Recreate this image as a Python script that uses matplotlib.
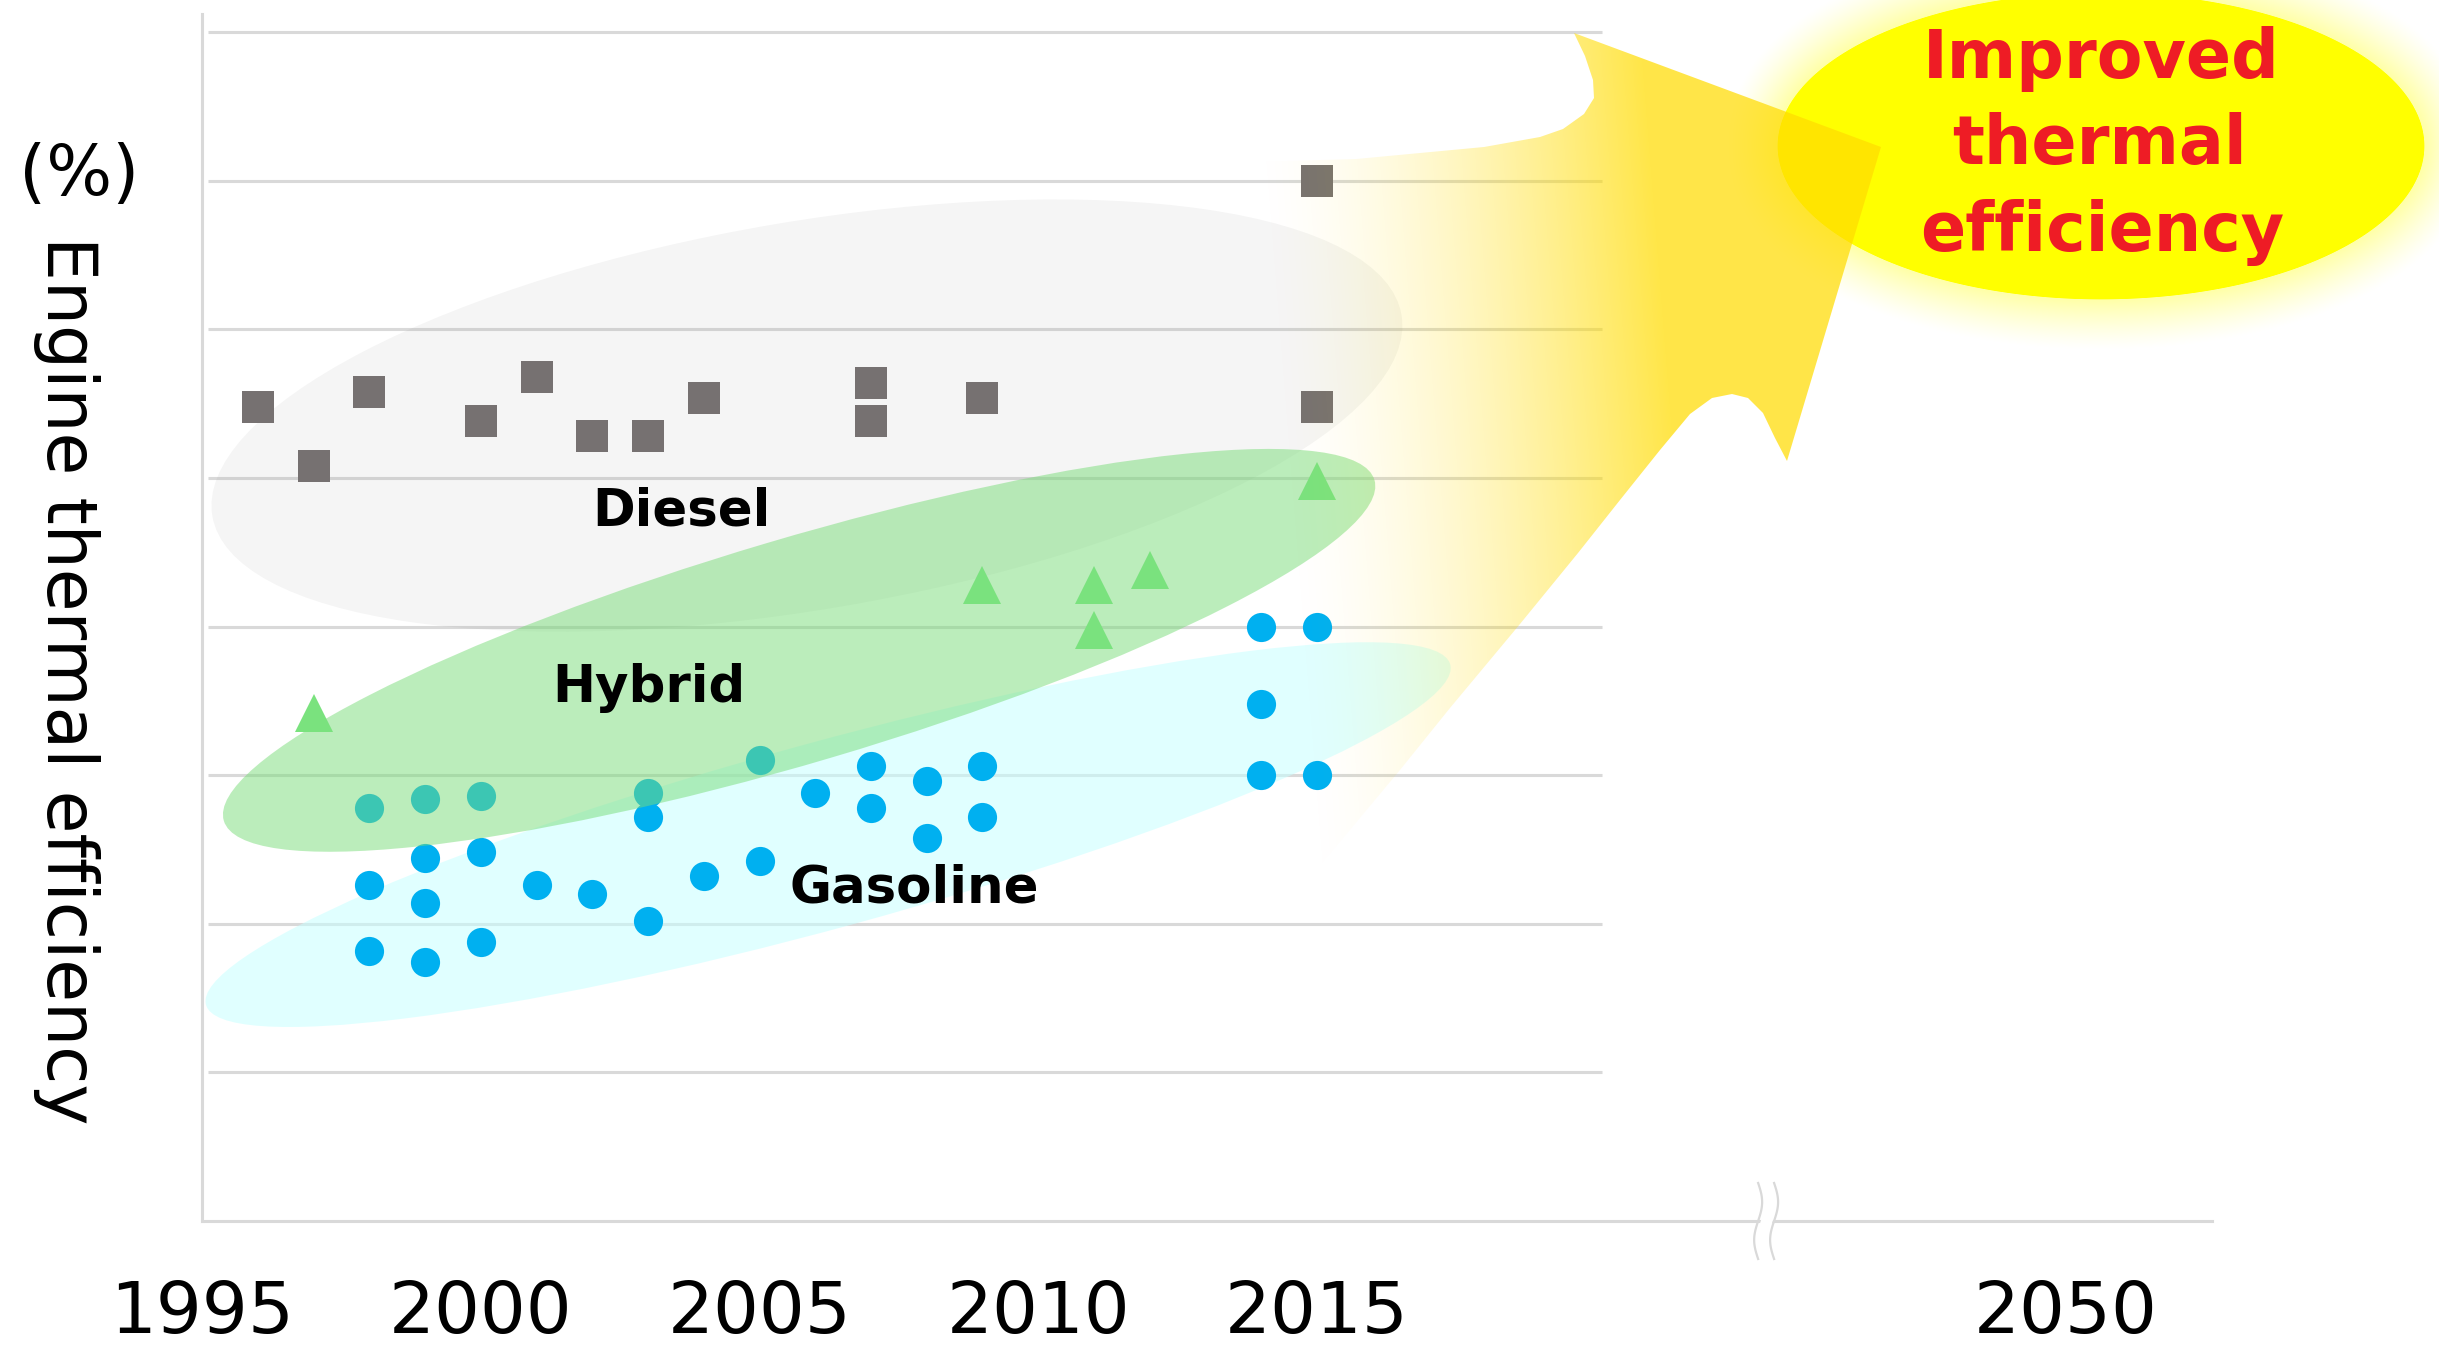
"""Engine thermal efficiency trend chart (diesel / hybrid / gasoline)."""

import numpy as np
import matplotlib.pyplot as plt
from matplotlib.patches import Ellipse, PathPatch
from matplotlib.path import Path
from matplotlib.transforms import IdentityTransform

# === DATA ===

diesel_years = [1996, 1997, 1998, 2000, 2001, 2002, 2003, 2004, 2007, 2007, 2009, 2015, 2015]
diesel_eff = [47.4, 45.4, 47.9, 46.9, 48.4, 46.4, 46.4, 47.7, 48.2, 46.9, 47.7, 55.0, 47.4]

hybrid_years = [1997, 2009, 2011, 2011, 2012, 2015]
hybrid_eff = [37.1, 41.4, 41.4, 39.9, 41.9, 44.9]

gasoline_years = [1998, 1998, 1998, 1999, 1999, 1999, 1999, 2000, 2000, 2000,
                  2001, 2002, 2003, 2003, 2003, 2004, 2005, 2005, 2006, 2007,
                  2007, 2008, 2008, 2009, 2009, 2014, 2014, 2014, 2015, 2015]
gasoline_eff = [33.9, 31.3, 29.1, 34.2, 32.2, 30.7, 28.7, 34.3, 32.4, 29.4,
                31.3, 31.0, 34.4, 33.6, 30.1, 31.6, 35.5, 32.1, 34.4, 35.3,
                33.9, 34.8, 32.9, 35.3, 33.6, 40.0, 37.4, 35.0, 40.0, 35.0]

grid_levels = [25, 30, 35, 40, 45, 50, 55, 60]
tick_labels = ["1995", "2000", "2005", "2010", "2015", "2050"]
# the axis is broken after 2020, so 2050 sits at a compressed position
tick_positions = [1995, 2000, 2005, 2010, 2015, 2028.43]

GRID = "#d9d9d9"
W, H = 2439, 1355
PX_YEAR, PX_PCT = 55.9, 29.72

# === FIGURE ===

fig = plt.figure(figsize=(W / 100, H / 100), dpi=100)
ax = fig.add_axes([202.2 / W, (H - 1221) / H, (2212 - 202.2) / W, (1221 - 14) / H])
ax.set_xlim(1995.10, 2031.06)
ax.set_ylim(20, 60.61)

for side in ["top", "right"]:
    ax.spines[side].set_visible(False)
for side in ["left", "bottom"]:
    ax.spines[side].set_color(GRID)
    ax.spines[side].set_linewidth(2.2)

ax.hlines(grid_levels, 1995.10, 2020.11, color=GRID, lw=2.2, zorder=0.5)

ax.set_yticks([])
ax.set_xticks(tick_positions, tick_labels, fontsize=52)
ax.tick_params(axis="x", length=0, pad=42)


def add_zone(cx, cy, a_px, b_px, angle, color, alpha, z):
    # zone centre is in data units, size in pixels so the tilt stays true
    centre = ax.transData.transform((cx, cy))
    ell = Ellipse(centre, 2 * a_px, 2 * b_px, angle=angle, transform=IdentityTransform(),
                  facecolor=color, edgecolor="none", alpha=alpha, zorder=z, clip_on=False)
    ax.add_artist(ell)


add_zone(2005.85, 47.1, 603, 194, 9.6, "#808080", 0.08, 1)
add_zone(2006.23, 33.0, 645, 93, 15.3, "#c8ffff", 0.55, 1.5)

ax.plot(gasoline_years, gasoline_eff, "o", color="#00b0f0", ms=21, mew=0, zorder=3)

add_zone(2005.71, 39.2, 600, 112, 16.5, "#78dc78", 0.5, 4)

ax.plot(hybrid_years, hybrid_eff, "^", color="#7ae27e", ms=27, mew=0, zorder=5)
ax.plot(diesel_years, diesel_eff, "s", color="#767171", ms=23, mew=0, zorder=5)

label_style = dict(fontsize=37, fontweight="bold", ha="center", va="center", zorder=6)
ax.text(2003.6, 43.86, "Diesel", **label_style)
ax.text(2003.02, 37.93, "Hybrid", **label_style)
ax.text(2007.77, 31.2, "Gasoline", **label_style)

# axis break mark on the bottom axis
bx = 2023.06
t = np.linspace(-1, 1, 60)
ys = 20 + t * 38 / PX_PCT
for off in (-8, 8):
    xs = bx + (off + 4 * np.sin(np.pi * t)) / PX_YEAR
    ax.plot(xs, ys, color=GRID, lw=1.6, zorder=7, clip_on=False)
ax.fill_betweenx(ys, bx + (-6 + 4 * np.sin(np.pi * t)) / PX_YEAR,
                 bx + (6 + 4 * np.sin(np.pi * t)) / PX_YEAR,
                 color="white", lw=0, zorder=6.5, clip_on=False)

# === OVERLAY (arrow + highlight) in pixel coordinates ===

ov = fig.add_axes([0, 0, 1, 1], zorder=3)
ov.patch.set_visible(False)
ov.axis("off")

# glowing yellow ellipse
gx0, gx1, gy0, gy1 = 1650, W, 0, 450
gx, gy = np.meshgrid(np.arange(gx0, gx1) + 0.5, np.arange(gy0, gy1) + 0.5)
ecx, ecy, ea, eb = 2101, 146, 323, 153
dx, dy = gx - ecx, gy - ecy
r = np.sqrt((dx / ea) ** 2 + (dy / eb) ** 2)
grad = np.sqrt((dx / ea ** 2) ** 2 + (dy / eb ** 2) ** 2) / np.maximum(r, 1e-6)
dist = (r - 1) / np.maximum(grad, 1e-9)
glow_alpha = np.where(dist <= 0, 1.0, np.clip(0.45 * (1 - dist / 52), 0, 1) ** 1.3)
edge = (dist > 0) & (dist < 1.2)
glow_alpha = np.where(edge, np.maximum(glow_alpha, 1 - dist / 1.2), glow_alpha)
glow = np.zeros(gx.shape + (4,))
glow[..., 0] = 1.0
glow[..., 1] = 1.0
glow[..., 3] = glow_alpha
ov.imshow(glow, extent=(gx0, gx1, gy1, gy0), aspect="auto", zorder=1, interpolation="bilinear")

# big arrow shape with a left-to-right fade
arrow_pts = [
    (1050, 172), (1100, 166), (1356, 159), (1484, 147), (1540, 137), (1563, 129),
    (1584, 114), (1594, 98), (1593, 80), (1585, 56), (1574, 33),
    (1881, 147), (1787, 461),
    (1775, 438), (1763, 413), (1748, 398), (1732, 394), (1712, 398), (1690, 414),
    (1660, 450), (1620, 500), (1578, 553), (1520, 624), (1450, 708), (1400, 770),
    (1350, 830), (1300, 890), (1200, 1000), (1050, 1000), (1050, 172),
]
arrow = PathPatch(Path(arrow_pts), facecolor="none", edgecolor="none", transform=ov.transData)
ov.add_patch(arrow)

fx0, fx1, fy0, fy1 = 1050, 1900, 0, 1010
fxx, fyy = np.meshgrid(np.arange(fx0, fx1) + 0.5, np.arange(fy0, fy1) + 0.5)
start = 1250 + 0.08 * (fyy - 150)
ramp = 0.72 * np.clip((fxx - start) / 400, 0, 1) ** 1.6
fade = np.zeros(fxx.shape + (4,))
fade[..., 0] = 1.0
fade[..., 1] = 220 / 255
fade[..., 3] = ramp
im = ov.imshow(fade, extent=(fx0, fx1, fy1, fy0), aspect="auto", zorder=2, interpolation="bilinear")
im.set_clip_path(arrow)

ov.set_xlim(0, W)
ov.set_ylim(H, 0)

red_style = dict(fontsize=48, fontweight="bold", color="#ee1c25", ha="center", va="baseline", zorder=10)
ov.text(2101, 78, "Improved", **red_style)
ov.text(2100, 164, "thermal", **red_style)
ov.text(2102, 251, "efficiency", **red_style)

# axis title
fig.text(66 / W, 1 - 680 / H, "Engine thermal efficiency", rotation=-90,
         ha="center", va="center", fontsize=50)
fig.text(79 / W, 1 - 175 / H, "(%)", ha="center", va="center", fontsize=50)

fig.savefig("out.png", dpi=100)
